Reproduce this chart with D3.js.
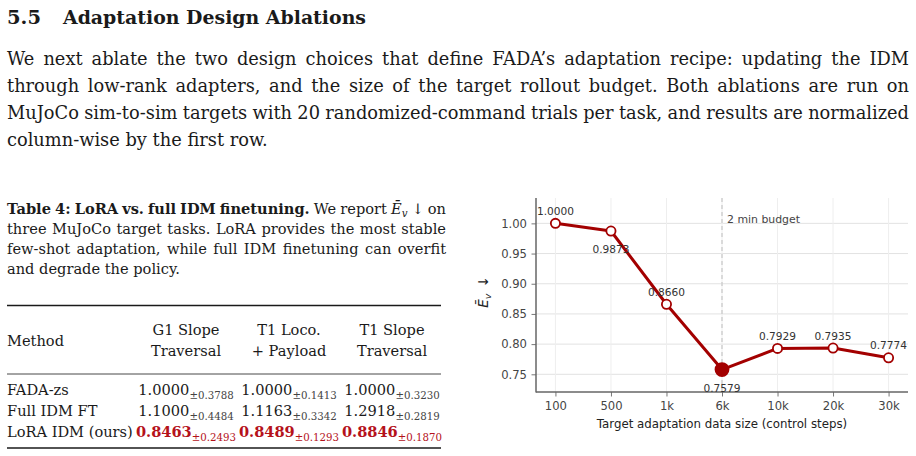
<!DOCTYPE html>
<html>
<head>
<meta charset="utf-8">
<script src="https://cdn.jsdelivr.net/npm/d3@7"></script>
<style>
  body { margin: 0; background: #fff; }
  svg { display: block; }
</style>
</head>
<body>
<svg id="page" width="916" height="456"></svg>
<script>
// ---------- text content ----------
var headingNum = "5.5";
var headingText = "Adaptation Design Ablations";

var bodyLines = [
  "We next ablate the two design choices that define FADA\u2019s adaptation recipe: updating the IDM",
  "through low-rank adapters, and the size of the target rollout budget. Both ablations are run on",
  "MuJoCo sim-to-sim targets with 20 randomized-command trials per task, and results are normalized",
  "column-wise by the first row."
];

// [word, bold]; "@EV" is the E-bar-sub-v symbol
var captionLines = [
  [["Table",1],["4:",1],["LoRA",1],["vs.",1],["full",1],["IDM",1],["finetuning.",1],["We",0],["report",0],["@EV",0],["\u2193",0],["on",0]],
  "three MuJoCo target tasks. LoRA provides the most stable".split(" ").map(function(w){ return [w,0]; }),
  "few-shot adaptation, while full IDM finetuning can overfit".split(" ").map(function(w){ return [w,0]; }),
  "and degrade the policy.".split(" ").map(function(w){ return [w,0]; })
];

// ---------- table data ----------
var methods = ["FADA-zs", "Full IDM FT", "LoRA IDM (ours)"];
var taskHeaders = [["G1 Slope", "Traversal"], ["T1 Loco.", "+ Payload"], ["T1 Slope", "Traversal"]];
var g1SlopeMean = [1.0000, 1.1000, 0.8463];
var g1SlopeStd  = [0.3788, 0.4484, 0.2493];
var t1LocoMean  = [1.0000, 1.1163, 0.8489];
var t1LocoStd   = [0.1413, 0.3342, 0.1293];
var t1SlopeMean = [1.0000, 1.2918, 0.8846];
var t1SlopeStd  = [0.3230, 0.2819, 0.1870];
var bestRow = 2;

// ---------- chart data ----------
var dataSizes = ["100", "500", "1k", "6k", "10k", "20k", "30k"];
var evNorm = [1.0000, 0.9873, 0.8660, 0.7579, 0.7929, 0.7935, 0.7774];
var labelAbove = [true, false, true, false, true, true, true];
var yTickVals = [0.75, 0.80, 0.85, 0.90, 0.95, 1.00];
var budgetSize = "6k";

var SERIF = "'DejaVu Serif', serif";
var SANS = "'DejaVu Sans', sans-serif";
var INK = "#1a1a1a";
var RED_TXT = "#b5121b";
var RED_LINE = "#a30000";

var svg = d3.select("#page");

// measure a string at 100px and return the size that gives the target width
function fitSize(str, target, family, weight) {
  var t = svg.append("text").attr("font-family", family).attr("font-weight", weight || "normal")
    .attr("font-size", 100).text(str);
  var w = t.node().getComputedTextLength();
  t.remove();
  return 100 * target / w;
}

function drawWord(g, tok, size, family) {
  var word = tok[0], bold = tok[1];
  var t = g.append("text").attr("font-family", family).attr("font-size", size)
    .attr("font-weight", bold ? "bold" : "normal").attr("fill", INK);
  if (word === "@EV") {
    t.append("tspan").attr("font-style", "italic").text("\u0112");
    t.append("tspan").attr("font-style", "italic").attr("font-size", size * 0.7)
      .attr("dy", size * 0.22).text("v");
  } else {
    t.text(word);
  }
  return t;
}

// lay out a line of words, justified to width or with natural spacing
function layLine(g, toks, x0, y, width, size, family, justify) {
  var texts = toks.map(function(tok) { return drawWord(g, tok, size, family); });
  var widths = texts.map(function(t) { return t.node().getComputedTextLength(); });
  var total = d3.sum(widths);
  var gap = justify ? (width - total) / (toks.length - 1) : size * 0.318;
  var x = x0;
  texts.forEach(function(t, i) {
    t.attr("x", x).attr("y", y);
    if (t.selectAll("tspan").size()) t.select("tspan").attr("x", x);
    x += widths[i] + gap;
  });
}

// ---------- heading ----------
var hSize = 19;
svg.append("text").attr("x", 7).attr("y", 23.5).attr("font-family", SERIF).attr("font-weight", "bold")
  .attr("font-size", hSize).attr("fill", INK).attr("textLength", 34).attr("lengthAdjust", "spacingAndGlyphs")
  .text(headingNum);
svg.append("text").attr("x", 63).attr("y", 23.5).attr("font-family", SERIF).attr("font-weight", "bold")
  .attr("font-size", hSize).attr("fill", INK).attr("textLength", 303).attr("lengthAdjust", "spacingAndGlyphs")
  .text(headingText);

// ---------- body paragraph ----------
var bSize = fitSize(bodyLines[3], 261, SERIF);
var body = svg.append("g");
bodyLines.forEach(function(line, i) {
  var toks = line.split(" ").map(function(w) { return [w, 0]; });
  layLine(body, toks, 7, 65 + i * 27, 902, bSize, SERIF, i < bodyLines.length - 1);
});

// ---------- caption ----------
var cSize = fitSize("and degrade the policy.", 173, SERIF);
var cap = svg.append("g");
captionLines.forEach(function(toks, i) {
  layLine(cap, toks, 7, 214 + i * 20, 439, cSize, SERIF, i < captionLines.length - 1);
});

// ---------- table ----------
var tbl = svg.append("g").attr("font-family", SERIF).attr("fill", INK);
var colX = d3.scalePoint().domain(d3.range(3)).range([186, 392]);
var rowY = d3.scalePoint().domain(d3.range(methods.length)).range([395, 437]);

tbl.append("line").attr("x1", 7).attr("x2", 441).attr("y1", 305.5).attr("y2", 305.5)
  .attr("stroke", INK).attr("stroke-width", 1.4);
tbl.append("line").attr("x1", 7).attr("x2", 441).attr("y1", 374).attr("y2", 374)
  .attr("stroke", INK).attr("stroke-width", 0.8);
tbl.append("line").attr("x1", 7).attr("x2", 441).attr("y1", 448).attr("y2", 448)
  .attr("stroke", INK).attr("stroke-width", 1.4);

tbl.append("text").attr("x", 7).attr("y", 345.5).attr("font-size", cSize).text("Method");
taskHeaders.forEach(function(h, j) {
  h.forEach(function(s, k) {
    tbl.append("text").attr("x", colX(j)).attr("y", 335 + k * 20.5).attr("text-anchor", "middle")
      .attr("font-size", cSize).text(s);
  });
});

methods.forEach(function(m, i) {
  tbl.append("text").attr("x", 7).attr("y", rowY(i)).attr("font-size", cSize).text(m);
});

[[g1SlopeMean, g1SlopeStd], [t1LocoMean, t1LocoStd], [t1SlopeMean, t1SlopeStd]].forEach(function(col, j) {
  col[0].forEach(function(mean, i) {
    var best = i === bestRow;
    var t = tbl.append("text").attr("x", colX(j)).attr("y", rowY(i)).attr("text-anchor", "middle")
      .attr("font-size", cSize).attr("fill", best ? RED_TXT : INK);
    t.append("tspan").attr("font-weight", best ? "bold" : "normal").text(mean.toFixed(4));
    t.append("tspan").attr("font-size", cSize * 0.7).attr("dy", 3.5)
      .attr("fill", best ? RED_TXT : "#444").text("\u00b1" + col[1][i].toFixed(4));
  });
});

// ---------- chart ----------
var cm = { left: 536, right: 908, top: 198, bottom: 392 };
var x = d3.scalePoint().domain(dataSizes).range([cm.left, cm.right]).padding(0.35);
var y = d3.scaleLinear().domain([0.7207, 1.042]).range([cm.bottom, cm.top]);

var chart = svg.append("g").attr("font-family", SANS);

// grid
chart.append("g").selectAll("line").data(yTickVals).enter().append("line")
  .attr("x1", cm.left).attr("x2", cm.right).attr("y1", function(d) { return y(d); }).attr("y2", function(d) { return y(d); })
  .attr("stroke", "#e2e2e2").attr("stroke-width", 1);
chart.append("g").selectAll("line").data(dataSizes).enter().append("line")
  .attr("x1", function(d) { return x(d); }).attr("x2", function(d) { return x(d); })
  .attr("y1", cm.top).attr("y2", cm.bottom)
  .attr("stroke", "#eeeeee").attr("stroke-width", 1);

// budget marker
chart.append("line").attr("x1", x(budgetSize)).attr("x2", x(budgetSize))
  .attr("y1", cm.top).attr("y2", cm.bottom)
  .attr("stroke", "#c4c4c4").attr("stroke-width", 1.1).attr("stroke-dasharray", "4,3");
chart.append("text").attr("x", x(budgetSize) + 5).attr("y", cm.top + 24.5)
  .attr("font-size", 10.9).attr("fill", "#444").text("2 min budget");

// axes
var yAxis = chart.append("g").attr("transform", "translate(" + cm.left + ",0)")
  .call(d3.axisLeft(y).tickValues(yTickVals).tickFormat(d3.format(".2f")).tickSize(4.5).tickPadding(4.5));
var xAxis = chart.append("g").attr("transform", "translate(0," + cm.bottom + ")")
  .call(d3.axisBottom(x).tickSize(4.5).tickPadding(5.5));
[yAxis, xAxis].forEach(function(a) {
  a.select(".domain").remove();
  a.selectAll(".tick line").attr("stroke", "#777").attr("stroke-width", 1);
  a.selectAll(".tick text").attr("font-family", SANS).attr("font-size", 11.6).attr("fill", "#444");
});
chart.append("line").attr("x1", cm.left).attr("x2", cm.left).attr("y1", cm.top).attr("y2", cm.bottom + 0.5)
  .attr("stroke", "#666").attr("stroke-width", 1.5);
chart.append("line").attr("x1", cm.left).attr("x2", cm.right).attr("y1", cm.bottom).attr("y2", cm.bottom)
  .attr("stroke", "#666").attr("stroke-width", 1.5);

// axis labels
chart.append("text").attr("x", (cm.left + cm.right) / 2).attr("y", 427.5).attr("text-anchor", "middle")
  .attr("font-size", 11.8).attr("fill", "#222").text("Target adaptation data size (control steps)");
var yl = chart.append("text").attr("transform", "translate(488,292) rotate(-90)")
  .attr("text-anchor", "middle").attr("font-size", 13.5).attr("fill", "#222");
yl.append("tspan").attr("font-style", "italic").text("\u0112");
yl.append("tspan").attr("font-style", "italic").attr("font-size", 9.5).attr("dy", 3).text("v");
yl.append("tspan").attr("dy", -3).attr("dx", 6).text("\u2193");

// line + markers
var pts = dataSizes.map(function(s, i) { return { s: s, v: evNorm[i], up: labelAbove[i] }; });
var best = d3.minIndex(evNorm);
chart.append("path").datum(pts)
  .attr("d", d3.line().x(function(d) { return x(d.s); }).y(function(d) { return y(d.v); }))
  .attr("fill", "none").attr("stroke", RED_LINE).attr("stroke-width", 3).attr("stroke-linejoin", "round");
chart.selectAll(".pt").data(pts).enter().append("circle")
  .attr("cx", function(d) { return x(d.s); }).attr("cy", function(d) { return y(d.v); })
  .attr("r", function(d, i) { return i === best ? 6.5 : 4.6; })
  .attr("fill", function(d, i) { return i === best ? RED_LINE : "#fff"; })
  .attr("stroke", RED_LINE).attr("stroke-width", 1.8);

chart.selectAll(".lbl").data(pts).enter().append("text")
  .attr("x", function(d) { return x(d.s); })
  .attr("y", function(d) { return y(d.v) + (d.up ? -8.5 : 22); })
  .attr("text-anchor", "middle").attr("font-size", 10.6).attr("fill", "#333")
  .text(function(d) { return d.v.toFixed(4); });
</script>
</body>
</html>
